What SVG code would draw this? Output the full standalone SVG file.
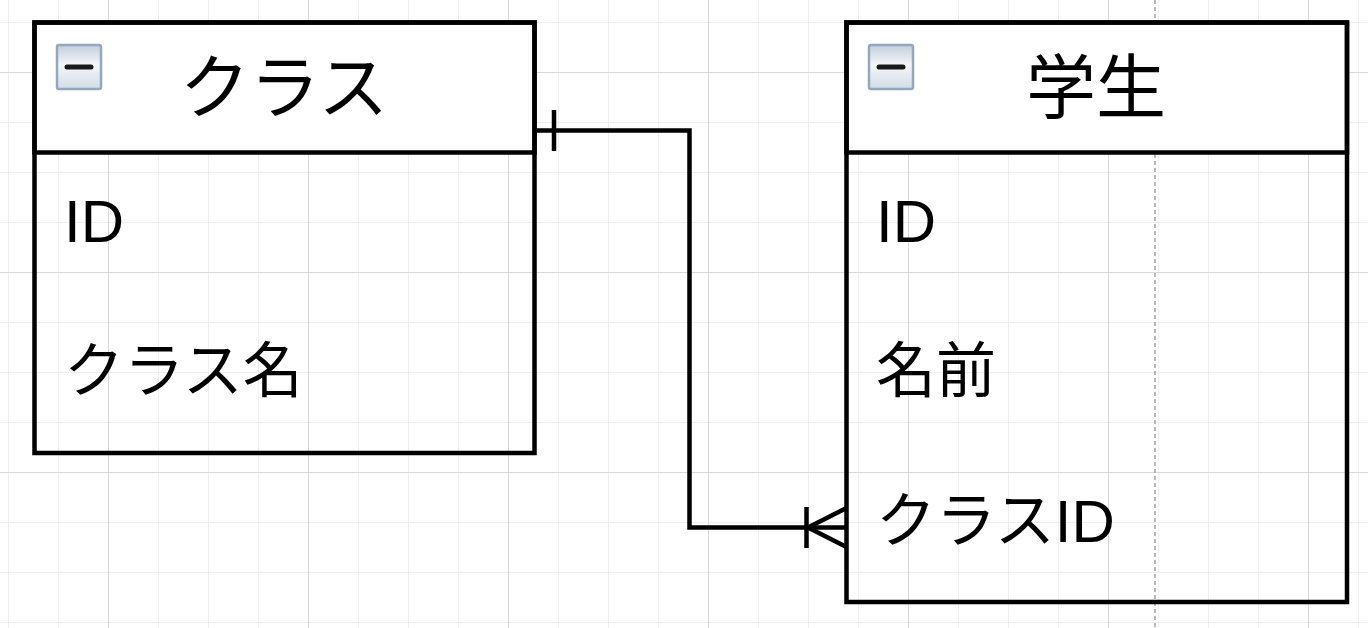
<svg xmlns="http://www.w3.org/2000/svg" width="1368" height="628" viewBox="0 0 1368 628">
  <defs>
    <pattern id="minor" x="8" y="22" width="50" height="50" patternUnits="userSpaceOnUse">
      <path d="M 0 0 L 0 50 M 0 0 L 50 0" fill="none" stroke="#efefef" stroke-width="2"/>
    </pattern>
    <pattern id="major" x="108" y="72" width="200" height="200" patternUnits="userSpaceOnUse">
      <path d="M 0 0 L 0 200 M 0 0 L 200 0" fill="none" stroke="#d2d2d2" stroke-width="1.5"/>
    </pattern>
    <linearGradient id="iconGrad" x1="0" y1="0" x2="0" y2="1">
      <stop offset="0" stop-color="#c2cedb"/>
      <stop offset="0.45" stop-color="#f4f6f9"/>
      <stop offset="1" stop-color="#d3dce6"/>
    </linearGradient>
  </defs>
  <style>
    .frame { fill: none; stroke: #000; stroke-width: 4.5; }
    .header { fill: #fff; stroke: #000; stroke-width: 4.5; }
    .title { font-family: "Liberation Sans", "Noto Sans CJK JP", sans-serif; font-size: 70px; fill: #000; text-anchor: middle; }
    .field { font-family: "Liberation Sans", "Noto Sans CJK JP", sans-serif; font-size: 60px; fill: #000; }
    .conn { fill: none; stroke: #000; stroke-width: 4.5; }
    .iconbox { fill: url(#iconGrad); stroke: #93a8bf; stroke-width: 2.5; }
    .iconbar { stroke: #1a1a1a; stroke-width: 5; stroke-linecap: round; }
  </style>

  <g id="background">
    <rect x="0" y="0" width="1368" height="628" fill="#ffffff"/>
    <rect x="0" y="0" width="1368" height="628" fill="url(#minor)"/>
    <rect x="0" y="0" width="1368" height="628" fill="url(#major)"/>
    <line x1="1155" y1="0" x2="1155" y2="628" stroke="#b8b8b8" stroke-width="2" stroke-dasharray="4 3"/>
  </g>

  <g id="table-class">
    <rect class="header" x="34.5" y="22.5" width="500" height="130"/>
    <rect class="frame" x="34.5" y="22.5" width="500" height="430.5"/>
    <g id="icon-class">
      <rect class="iconbox" x="57" y="45" width="44" height="44" rx="2"/>
      <line class="iconbar" x1="67" y1="67" x2="91" y2="67"/>
    </g>
    <text class="title" x="284" y="113">クラス</text>
    <text class="field" x="64" y="242">ID</text>
    <text class="field" x="64" y="392">クラス名</text>
  </g>

  <g id="table-student">
    <rect class="header" x="846.5" y="22.5" width="500.5" height="130"/>
    <rect class="frame" x="846.5" y="22.5" width="500.5" height="579.5"/>
    <g id="icon-student">
      <rect class="iconbox" x="869" y="45" width="44" height="44" rx="2"/>
      <line class="iconbar" x1="879" y1="67" x2="903" y2="67"/>
    </g>
    <text class="title" x="1096" y="113">学生</text>
    <text class="field" x="876" y="242">ID</text>
    <text class="field" x="876" y="392">名前</text>
    <text class="field" x="876" y="542">クラスID</text>
  </g>

  <g id="connectors">
    <path class="conn" d="M 534.5 130.5 L 689.5 130.5 L 689.5 527.5 L 846.5 527.5"/>
    <line class="conn" x1="554" y1="110" x2="554" y2="151"/>
    <line class="conn" x1="806.5" y1="507" x2="806.5" y2="548"/>
    <path class="conn" d="M 846.5 508 L 808 527.5 L 846.5 547"/>
  </g>
</svg>
